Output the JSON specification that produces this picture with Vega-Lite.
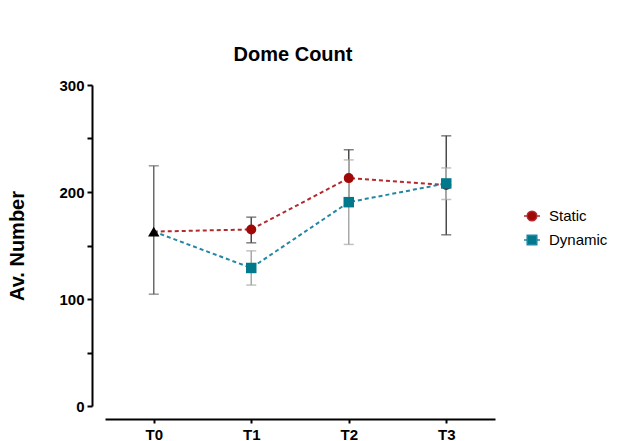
{
  "$schema": "https://vega.github.io/schema/vega-lite/v6.json",
  "autosize": "none",
  "width": 390,
  "height": 321,
  "padding": {"left": 105, "top": 85, "right": 130, "bottom": 35},
  "background": "white",
  "title": {"text": "Dome Count", "font": "Liberation Sans", "fontSize": 20, "fontWeight": "bold", "color": "black", "anchor": "middle", "offset": 13, "dx": -7},
  "config": {
    "view": {"stroke": null},
    "axis": {"labelFont": "Liberation Sans", "labelFontWeight": "bold", "labelFontSize": 15, "labelColor": "black", "titleFont": "Liberation Sans", "titleFontWeight": "bold", "titleColor": "black", "domainColor": "black", "domainWidth": 2, "tickColor": "black", "tickWidth": 2, "grid": false},
    "legend": {"labelFont": "Liberation Sans", "labelFontSize": 15, "labelColor": "black"}
  },
  "data": {"values": [
    {"group": "Static", "time": "T0", "mean": 163, "lo": 104.5, "hi": 224.5},
    {"group": "Static", "time": "T1", "mean": 165, "lo": 152.5, "hi": 176.5},
    {"group": "Static", "time": "T2", "mean": 213, "lo": 187, "hi": 239.5},
    {"group": "Static", "time": "T3", "mean": 206.5, "lo": 160, "hi": 252.5},
    {"group": "Dynamic", "time": "T0", "mean": 163, "lo": 104.5, "hi": 224.5},
    {"group": "Dynamic", "time": "T1", "mean": 129, "lo": 113, "hi": 145},
    {"group": "Dynamic", "time": "T2", "mean": 190.5, "lo": 151, "hi": 230},
    {"group": "Dynamic", "time": "T3", "mean": 208, "lo": 193, "hi": 222.5}
  ]},
  "encoding": {
    "x": {"field": "time", "type": "ordinal", "scale": {"type": "point", "padding": 0.5},
      "axis": {"title": null, "labelAngle": 0, "offset": 13, "tickSize": 4, "labelPadding": 4}}
  },
  "layer": [
    {
      "transform": [{"filter": "!(datum.group === 'Dynamic' && datum.time === 'T0')"}],
      "mark": {"type": "rule", "strokeWidth": 1.5},
      "encoding": {
        "y": {"field": "lo", "type": "quantitative", "scale": {"domain": [0, 300]},
          "axis": {"title": "Av. Number", "titleFontSize": 20, "titlePadding": 31, "values": [0, 50, 100, 150, 200, 250, 300], "labelExpr": "datum.value % 100 === 0 ? datum.label : ''", "offset": 13, "tickSize": 5, "labelPadding": 3}},
        "y2": {"field": "hi"},
        "color": {"condition": [{"test": "datum.group === 'Dynamic'", "value": "#a8a8a8"}, {"test": "datum.time === 'T0'", "value": "#6a6a6a"}], "value": "#4a4a4a"}
      }
    },
    {
      "transform": [{"filter": "!(datum.group === 'Dynamic' && datum.time === 'T0')"}],
      "mark": {"type": "tick", "size": 10, "thickness": 1.5},
      "encoding": {
        "y": {"field": "lo", "type": "quantitative"},
        "color": {"condition": [{"test": "datum.group === 'Dynamic'", "value": "#a8a8a8"}, {"test": "datum.time === 'T0'", "value": "#6a6a6a"}], "value": "#4a4a4a"}
      }
    },
    {
      "transform": [{"filter": "!(datum.group === 'Dynamic' && datum.time === 'T0')"}],
      "mark": {"type": "tick", "size": 10, "thickness": 1.5},
      "encoding": {
        "y": {"field": "hi", "type": "quantitative"},
        "color": {"condition": [{"test": "datum.group === 'Dynamic'", "value": "#a8a8a8"}, {"test": "datum.time === 'T0'", "value": "#6a6a6a"}], "value": "#4a4a4a"}
      }
    },
    {
      "mark": {"type": "line", "strokeWidth": 2, "strokeDash": [4, 3]},
      "encoding": {
        "y": {"field": "mean", "type": "quantitative"},
        "detail": {"field": "group"},
        "color": {"condition": {"test": "datum.group === 'Static'", "value": "#b22a2e"}, "value": "#2286a4"}
      }
    },
    {
      "transform": [{"filter": "datum.time !== 'T0'"}],
      "mark": {"type": "point", "filled": true, "opacity": 1},
      "encoding": {
        "y": {"field": "mean", "type": "quantitative"},
        "shape": {"condition": {"test": "datum.group === 'Static'", "value": "circle"}, "value": "square"},
        "size": {"condition": {"test": "datum.group === 'Static'", "value": 100}, "value": 110},
        "color": {"condition": {"test": "datum.group === 'Static'", "value": "#a00808"}, "value": "#00798c"}
      }
    },
    {
      "transform": [{"filter": "datum.time === 'T0' && datum.group === 'Static'"}],
      "mark": {"type": "point", "filled": true, "opacity": 1, "shape": "triangle-up", "size": 130, "color": "black"},
      "encoding": {
        "y": {"field": "mean", "type": "quantitative"}
      }
    },
    {
      "transform": [{"filter": "false"}],
      "mark": {"type": "point", "filled": true, "opacity": 1, "strokeWidth": 1.5},
      "encoding": {
        "fill": {"field": "group", "type": "nominal", "scale": {"domain": ["Static", "Dynamic"], "range": ["#a00808", "#00798c"]},
          "legend": {"title": null, "orient": "none", "legendX": 418, "legendY": 122, "symbolSize": 256, "rowPadding": 7, "labelOffset": 8}},
        "stroke": {"field": "group", "type": "nominal", "scale": {"domain": ["Static", "Dynamic"], "range": ["#b22a2e", "#2286a4"]},
          "legend": {"title": null, "orient": "none", "legendX": 418, "legendY": 122, "symbolSize": 256, "rowPadding": 7, "labelOffset": 8}},
        "shape": {"field": "group", "type": "nominal", "scale": {"domain": ["Static", "Dynamic"], "range": ["M-1,0L-0.6,0M0.6,0L1,0M0.6,0A0.6,0.6,0,1,1,-0.6,0A0.6,0.6,0,1,1,0.6,0Z", "M-1,0L-0.6,0M0.6,0L1,0M-0.6,-0.6L0.6,-0.6L0.6,0.6L-0.6,0.6Z"]},
          "legend": {"title": null, "orient": "none", "legendX": 418, "legendY": 122, "symbolSize": 256, "rowPadding": 7, "labelOffset": 8}}
      }
    }
  ]
}
